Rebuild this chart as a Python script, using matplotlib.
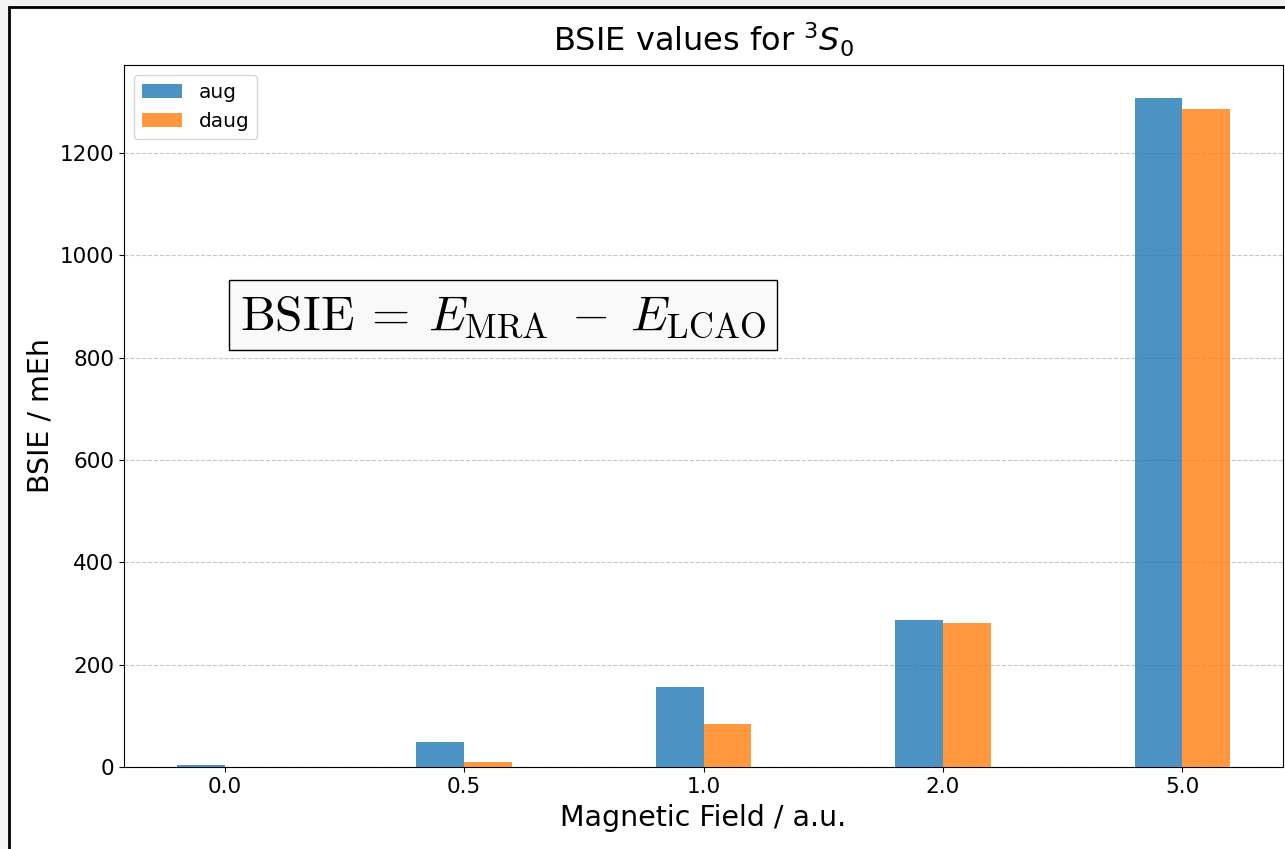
import matplotlib
matplotlib.use("Agg")
import matplotlib.pyplot as plt
import numpy as np
from matplotlib.patches import Rectangle

fields = ["0.0", "0.5", "1.0", "2.0", "5.0"]
aug = [3, 49, 156, 287, 1307]
daug = [0.5, 9, 84, 281, 1286]
series_names = ["aug", "daug"]

fig = plt.figure(figsize=(12.85, 8.49), dpi=100)
fig.patch.set_facecolor("#f3f3f3")
fig.patches.append(Rectangle((9/1285, -0.05), 1.2, (849-7)/849 + 0.05,
                             transform=fig.transFigure, facecolor="white",
                             edgecolor="black", linewidth=2, zorder=-10))
ax = fig.add_axes([124/1285, (849-767)/849, (1283-124)/1285, (767-65)/849])
ax.set_zorder(5)

x = np.arange(len(fields))
w = 0.2
ax.bar(x - w/2, aug, w, color="#1f77b4", alpha=0.8, label=series_names[0], zorder=3)
ax.bar(x + w/2, daug, w, color="#ff7f0e", alpha=0.8, label=series_names[1], zorder=3)

ax.set_xticks(x)
ax.set_xticklabels(fields)
ax.set_xlim(-0.42, 4.42)
ax.set_ylim(0, 1372)
ax.yaxis.grid(True, linestyle="--", alpha=0.7, zorder=0)
ax.set_axisbelow(True)
ax.tick_params(labelsize=15.5)

ax.set_xlabel("Magnetic Field / a.u.", fontsize=20.5, labelpad=5)
ax.set_ylabel("BSIE / mEh", fontsize=20.5, labelpad=4)
ax.set_title(r"BSIE values for $^3S_0$", fontsize=23, pad=10)
ax.legend(loc="upper left", fontsize=14.5)

ax.text(0.1, 0.644, r"$\mathrm{BSIE}\:=\:E_{\mathrm{MRA}}\;-\;E_{\mathrm{LCAO}}$",
        transform=ax.transAxes, fontsize=35.5, ha="left", va="center",
        math_fontfamily="cm",
        bbox=dict(facecolor="#f9f9f9", edgecolor="black", boxstyle="square,pad=0.22"))

fig.savefig("out.png", dpi=100, facecolor=fig.get_facecolor())
